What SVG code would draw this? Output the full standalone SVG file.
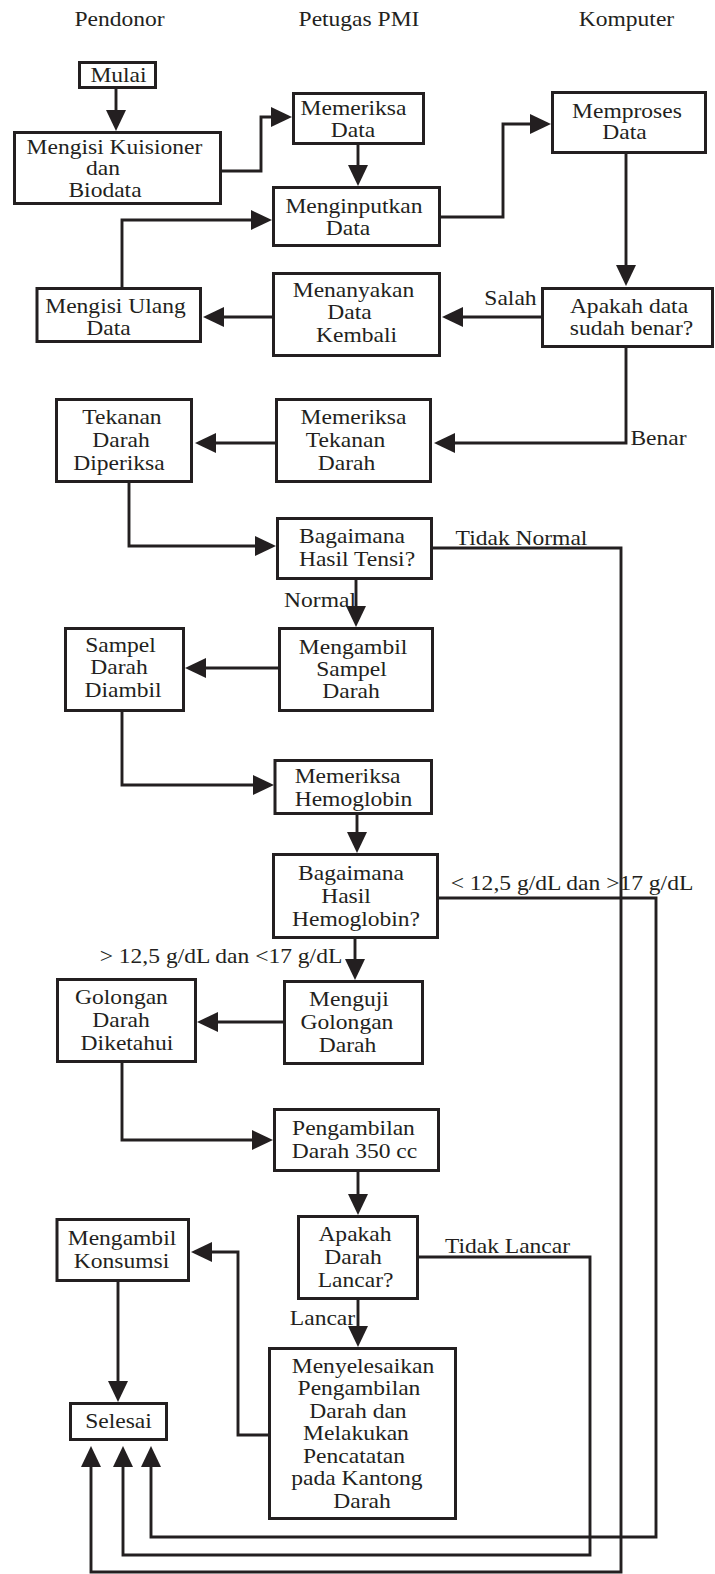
<svg xmlns="http://www.w3.org/2000/svg" width="715" height="1574" viewBox="0 0 715 1574">
<style>
text{font-family:"Liberation Serif","Times New Roman",serif;font-size:22px;fill:#231f20;text-anchor:middle;transform-box:fill-box;transform-origin:center;transform:scaleX(1.07)}
.box{fill:#fff;stroke:#231f20;stroke-width:3}
.ln{fill:none;stroke:#231f20;stroke-width:2.9;stroke-linejoin:miter}
</style>
<defs>
<marker id="ah" markerUnits="userSpaceOnUse" markerWidth="22" markerHeight="22" viewBox="0 -11 22 22" refX="1" refY="0" orient="auto">
<path d="M0,-10 L21,0 L0,10 z" fill="#231f20"/>
</marker>
</defs>
<rect width="715" height="1574" fill="#fff"/>

<g id="headers">
<text x="119.5" y="26">Pendonor</text>
<text x="359" y="26">Petugas PMI</text>
<text x="626.5" y="26">Komputer</text>
</g>

<g id="connectors">
<path class="ln" marker-end="url(#ah)" d="M116,89 V111"/>
<path class="ln" marker-end="url(#ah)" d="M222,171 H261 V117 H272"/>
<path class="ln" marker-end="url(#ah)" d="M358,145 V166"/>
<path class="ln" marker-end="url(#ah)" d="M441,217 H503 V124 H531"/>
<path class="ln" marker-end="url(#ah)" d="M626,154 V266"/>
<path class="ln" marker-end="url(#ah)" d="M541,317 H462"/>
<path class="ln" marker-end="url(#ah)" d="M273,317 H223"/>
<path class="ln" marker-end="url(#ah)" d="M122,287 V220 H252"/>
<path class="ln" marker-end="url(#ah)" d="M626,348 V443 H454"/>
<path class="ln" marker-end="url(#ah)" d="M276,443 H215"/>
<path class="ln" marker-end="url(#ah)" d="M129,483 V546 H256"/>
<path class="ln" marker-end="url(#ah)" d="M356,580 V607"/>
<path class="ln" marker-end="url(#ah)" d="M433,548 H621 V1572 H91 V1466"/>
<path class="ln" marker-end="url(#ah)" d="M279,668 H205"/>
<path class="ln" marker-end="url(#ah)" d="M122,712 V785 H254"/>
<path class="ln" marker-end="url(#ah)" d="M357,815 V833"/>
<path class="ln" marker-end="url(#ah)" d="M439,898 H656 V1537 H151 V1466"/>
<path class="ln" marker-end="url(#ah)" d="M355,939 V960"/>
<path class="ln" marker-end="url(#ah)" d="M284,1022 H217"/>
<path class="ln" marker-end="url(#ah)" d="M122,1063 V1140 H253"/>
<path class="ln" marker-end="url(#ah)" d="M358,1172 V1195"/>
<path class="ln" marker-end="url(#ah)" d="M419,1257 H590 V1555 H123 V1466"/>
<path class="ln" marker-end="url(#ah)" d="M358,1300 V1327"/>
<path class="ln" marker-end="url(#ah)" d="M269,1435 H238 V1252 H211"/>
<path class="ln" marker-end="url(#ah)" d="M118,1282 V1382"/>
<text x="510.5" y="305">Salah</text>
<text x="658.5" y="445">Benar</text>
<text x="521.5" y="545">Tidak Normal</text>
<text x="320" y="607">Normal</text>
<text x="572" y="890">&lt; 12,5 g/dL dan &gt;17 g/dL</text>
<text x="221" y="963">&gt; 12,5 g/dL dan &lt;17 g/dL</text>
<text x="507.5" y="1253">Tidak Lancar</text>
<text x="322.5" y="1325">Lancar</text>
</g>

<g id="mulai"><rect class="box" x="79.5" y="62.5" width="76" height="25"/><text x="118.5" y="82">Mulai</text></g>
<g id="mengisi-kuisioner"><rect class="box" x="14.5" y="132.5" width="206" height="71"/><text x="114.5" y="154">Mengisi Kuisioner</text><text x="103" y="175.5">dan</text><text x="105" y="197">Biodata</text></g>
<g id="memeriksa-data"><rect class="box" x="293.5" y="93.5" width="130" height="50"/><text x="353.5" y="115">Memeriksa</text><text x="353" y="137">Data</text></g>
<g id="menginputkan-data"><rect class="box" x="273.5" y="187.5" width="166" height="58"/><text x="354" y="213">Menginputkan</text><text x="348" y="235">Data</text></g>
<g id="memproses-data"><rect class="box" x="552.5" y="92.5" width="153" height="60"/><text x="627" y="118">Memproses</text><text x="624.5" y="139">Data</text></g>
<g id="mengisi-ulang"><rect class="box" x="37" y="288.5" width="163.5" height="53"/><text x="115.5" y="313">Mengisi Ulang</text><text x="108.5" y="335">Data</text></g>
<g id="menanyakan"><rect class="box" x="273.5" y="273.5" width="166" height="82"/><text x="353.5" y="297">Menanyakan</text><text x="349.5" y="319.5">Data</text><text x="356.5" y="342">Kembali</text></g>
<g id="apakah-data"><rect class="box" x="542.5" y="288.5" width="170" height="58"/><text x="629" y="313">Apakah data</text><text x="631.5" y="335">sudah benar?</text></g>
<g id="tekanan-diperiksa"><rect class="box" x="56.5" y="399.5" width="135" height="82"/><text x="122" y="424">Tekanan</text><text x="121" y="447">Darah</text><text x="119" y="470">Diperiksa</text></g>
<g id="memeriksa-tekanan"><rect class="box" x="276.5" y="399.5" width="154" height="82"/><text x="353.5" y="424">Memeriksa</text><text x="345.5" y="447">Tekanan</text><text x="346.5" y="470">Darah</text></g>
<g id="hasil-tensi"><rect class="box" x="277.5" y="518.5" width="154" height="60"/><text x="352" y="543">Bagaimana</text><text x="357" y="566">Hasil Tensi?</text></g>
<g id="mengambil-sampel"><rect class="box" x="279.5" y="628.5" width="153" height="82"/><text x="353" y="654">Mengambil</text><text x="351.5" y="676">Sampel</text><text x="351" y="698">Darah</text></g>
<g id="sampel-diambil"><rect class="box" x="65.5" y="628.5" width="118" height="82"/><text x="120.5" y="652">Sampel</text><text x="119" y="674">Darah</text><text x="123" y="697">Diambil</text></g>
<g id="memeriksa-hb"><rect class="box" x="275" y="760.5" width="156.5" height="53"/><text x="347.6" y="783">Memeriksa</text><text x="353.5" y="806">Hemoglobin</text></g>
<g id="hasil-hb"><rect class="box" x="273.5" y="854.5" width="164" height="83"/><text x="351" y="879.6">Bagaimana</text><text x="346" y="902.6">Hasil</text><text x="356" y="925.6">Hemoglobin?</text></g>
<g id="golongan-diketahui"><rect class="box" x="57.5" y="979.5" width="138" height="82"/><text x="121.5" y="1004">Golongan</text><text x="121" y="1027">Darah</text><text x="127" y="1050">Diketahui</text></g>
<g id="menguji-golongan"><rect class="box" x="284.5" y="981.5" width="138" height="82"/><text x="349" y="1006">Menguji</text><text x="347" y="1029">Golongan</text><text x="347.6" y="1052">Darah</text></g>
<g id="pengambilan"><rect class="box" x="274.5" y="1109.5" width="164" height="61"/><text x="353.5" y="1135">Pengambilan</text><text x="354.5" y="1158">Darah 350 cc</text></g>
<g id="apakah-lancar"><rect class="box" x="298.5" y="1216.5" width="119" height="82"/><text x="355" y="1241">Apakah</text><text x="353" y="1264">Darah</text><text x="355.6" y="1287">Lancar?</text></g>
<g id="mengambil-konsumsi"><rect class="box" x="57" y="1219.5" width="131.5" height="61"/><text x="122" y="1245">Mengambil</text><text x="121.5" y="1268">Konsumsi</text></g>
<g id="menyelesaikan"><rect class="box" x="269.5" y="1348.5" width="186" height="170"/><text x="363" y="1373">Menyelesaikan</text><text x="359" y="1395.5">Pengambilan</text><text x="358" y="1418">Darah dan</text><text x="356" y="1440.5">Melakukan</text><text x="354" y="1463">Pencatatan</text><text x="357" y="1485.5">pada Kantong</text><text x="362" y="1508">Darah</text></g>
<g id="selesai"><rect class="box" x="70.5" y="1403.5" width="96" height="36"/><text x="118.5" y="1428">Selesai</text></g>
</svg>
